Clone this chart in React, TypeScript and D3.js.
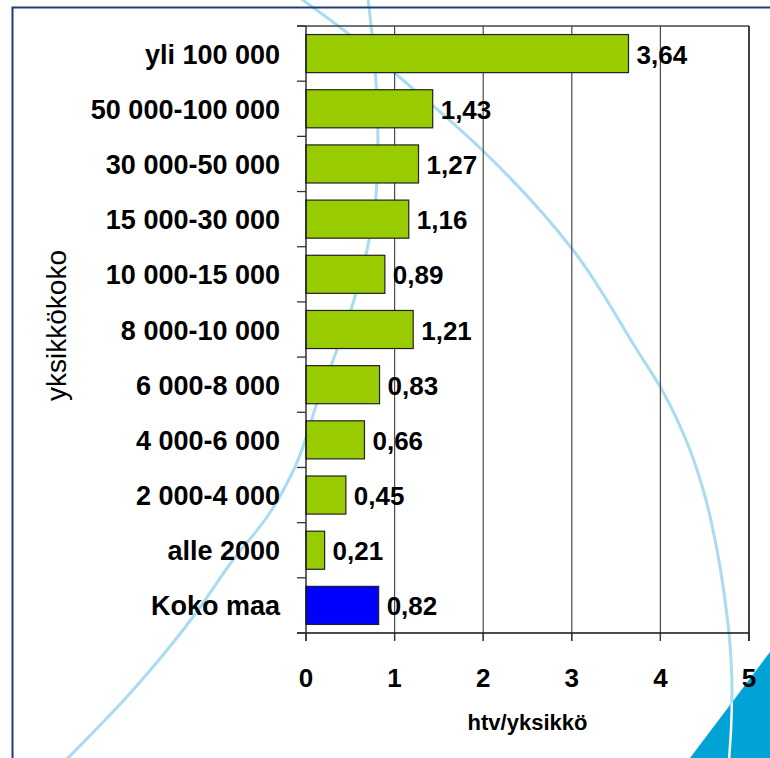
import React from "react";
import * as d3 from "d3";

const categories = [
  "yli 100 000",
  "50 000-100 000",
  "30 000-50 000",
  "15 000-30 000",
  "10 000-15 000",
  "8 000-10 000",
  "6 000-8 000",
  "4 000-6 000",
  "2 000-4 000",
  "alle 2000",
  "Koko maa",
];
const values = [3.64, 1.43, 1.27, 1.16, 0.89, 1.21, 0.83, 0.66, 0.45, 0.21, 0.82];
const highlighted = ["Koko maa"];
const xTicks = [0, 1, 2, 3, 4, 5];
const xTitle = "htv/yksikkö";
const yTitle = "yksikkökoko";

// decorative background curves (slide template)
const arcA: [number, number][] = [
  [300, -2], [350, 35], [397, 75], [480, 148], [573, 250], [637, 350], [662, 390],
  [690, 450], [706, 500], [717, 550], [725, 600], [730, 645], [732, 690], [731, 730], [729, 760],
];
const arcB: [number, number][] = [
  [368, -2], [372, 35], [377, 100], [378, 150], [376, 195], [367, 250], [354, 300],
  [338, 347], [318, 400], [295, 467], [267, 517], [233, 560], [193, 617], [133, 690], [66, 760],
];

const W = 770;
const H = 758;
const M = { left: 306, right: 749, top: 26, bottom: 633 };
const FONT = "Arial, 'Liberation Sans', sans-serif";

export default function App() {
  const x = d3.scaleLinear().domain([0, 5]).range([M.left, M.right]);
  const y = d3
    .scaleBand<string>()
    .domain(categories)
    .range([M.top, M.bottom])
    .paddingInner(0.31)
    .paddingOuter(0.155);
  const step = y.step();
  const bandTicks = d3.range(categories.length + 1).map((i) => M.top + i * step);
  const curve = d3.line().curve(d3.curveMonotoneY);
  const fmt = (v: number) => d3.format(".2f")(v).replace(".", ",");
  const arcColor = "#a9dcf0";

  return (
    <svg
      width={W}
      height={H}
      style={{ position: "absolute", left: 0, top: 0, display: "block", background: "#fff" }}
      fontFamily={FONT}
    >
      <defs>
        <clipPath id="tri">
          <polygon points={`770,652 690,758 770,758`} />
        </clipPath>
      </defs>
      <rect x={0} y={0} width={W} height={H} fill="#fff" />
      {/* decorative curves */}
      <path d={curve(arcA) || ""} fill="none" stroke={arcColor} strokeWidth={3} />
      <path d={curve(arcB) || ""} fill="none" stroke={arcColor} strokeWidth={3} />
      <polygon points={`770,652 690,758 770,758`} fill="#00a3d6" />
      <g clipPath="url(#tri)">
        <path d={curve(arcA) || ""} fill="none" stroke="#ffffff" strokeWidth={2.5} />
      </g>
      {/* frame of slide */}
      <path d={`M12.5,${H} L12.5,7.5 L${W},7.5`} fill="none" stroke="#1f3c74" strokeWidth={2} />

      {/* gridlines */}
      {xTicks.slice(1, -1).map((t) => (
        <line key={"g" + t} x1={x(t)} x2={x(t)} y1={M.top} y2={M.bottom + 8} stroke="#4a4a4a" strokeWidth={1.2} />
      ))}
      <line x1={M.left - 9} x2={M.right} y1={M.top} y2={M.top} stroke="#444" strokeWidth={1.3} />
      <line x1={M.right} x2={M.right} y1={M.top} y2={M.bottom + 8} stroke="#111" strokeWidth={1.6} />

      {/* bars */}
      {categories.map((c, i) => (
        <rect
          key={c}
          x={x(0)}
          y={y(c)}
          width={x(values[i]) - x(0)}
          height={y.bandwidth()}
          fill={highlighted.includes(c) ? "#0000ff" : "#99cc00"}
          stroke="#222"
          strokeWidth={1.2}
        />
      ))}

      {/* axes */}
      <line x1={M.left} x2={M.left} y1={M.top} y2={M.bottom + 8} stroke="#111" strokeWidth={1.3} />
      <line x1={M.left - 9} x2={M.right} y1={M.bottom} y2={M.bottom} stroke="#111" strokeWidth={1.6} />
      {bandTicks.map((t, i) => (
        <line key={"bt" + i} x1={M.left - 9} x2={M.left} y1={t} y2={t} stroke="#333" strokeWidth={1.3} />
      ))}
      {xTicks.map((t) => (
        <g key={"xt" + t}>
          <line x1={x(t)} x2={x(t)} y1={M.bottom} y2={M.bottom + 8} stroke="#333" strokeWidth={1.3} />
          <text x={x(t)} y={687} textAnchor="middle" fontSize={26} fontWeight="bold" fill="#000">
            {t}
          </text>
        </g>
      ))}

      {/* category labels */}
      {categories.map((c) => (
        <text
          key={"l" + c}
          x={280}
          y={(y(c) as number) + y.bandwidth() / 2 + 10}
          textAnchor="end"
          fontSize={27}
          fontWeight="bold"
          fill="#000"
        >
          {c}
        </text>
      ))}

      {/* value labels */}
      {categories.map((c, i) => (
        <text
          key={"v" + c}
          x={x(values[i]) + 8}
          y={(y(c) as number) + y.bandwidth() / 2 + 10}
          fontSize={26}
          fontWeight="bold"
          fill="#000"
        >
          {fmt(values[i])}
        </text>
      ))}

      {/* titles */}
      <text x={(M.left + M.right) / 2} y={730} textAnchor="middle" fontSize={22} fontWeight="bold" fill="#000">
        {xTitle}
      </text>
      <text
        transform={`translate(66, ${(M.top + M.bottom) / 2 - 4}) rotate(-90)`}
        textAnchor="middle"
        fontSize={28}
        fill="#000"
      >
        {yTitle}
      </text>
    </svg>
  );
}
